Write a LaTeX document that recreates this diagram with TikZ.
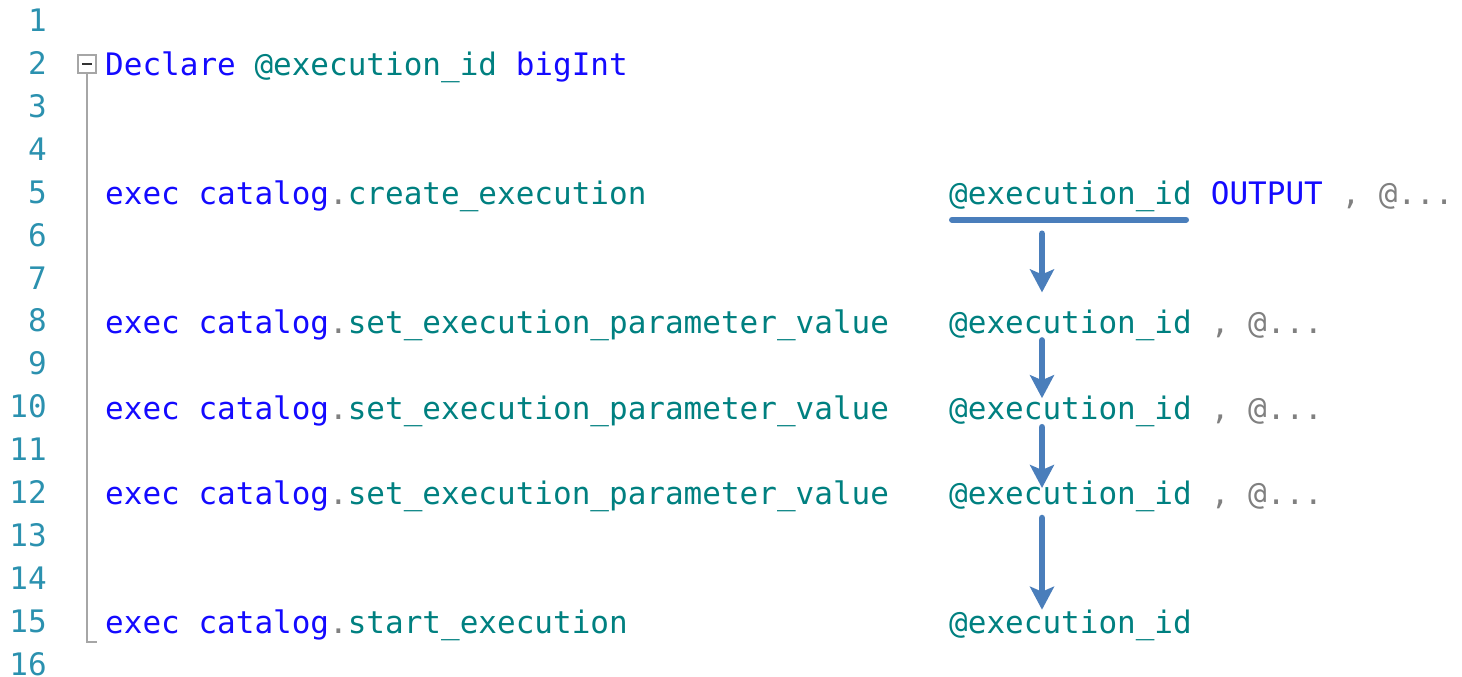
\documentclass[tikz,border=0pt]{standalone}
\usepackage{fontspec}
\setmonofont{DejaVu Sans Mono}
\usetikzlibrary{arrows.meta}
\definecolor{sqlkw}{RGB}{20,10,255}
\definecolor{sqlid}{RGB}{0,128,128}
\definecolor{sqlgray}{RGB}{128,128,128}
\definecolor{lnumcol}{RGB}{43,145,175}
\definecolor{flowcol}{RGB}{74,126,187}
\newcommand{\codefont}{\fontsize{31}{36}\selectfont\ttfamily}
\newcommand{\kw}[1]{\textcolor{sqlkw}{#1}}
\newcommand{\idt}[1]{\textcolor{sqlid}{#1}}
\newcommand{\gr}[1]{\textcolor{sqlgray}{#1}}
\tikzset{
  code/.style={font=\codefont,anchor=base west,inner sep=0pt},
  lnum/.style={font=\codefont,anchor=base east,inner sep=0pt,text=lnumcol},
  flow/.style={draw=flowcol,line width=6.5pt,line cap=round,-{Stealth[width=24pt,length=23pt,inset=5pt]}},
  uline/.style={draw=flowcol,line width=6pt,line cap=round},
  foldline/.style={draw=gray!70,line width=1.5pt}
}
\begin{document}
\begin{tikzpicture}[x=1pt,y=1pt]
\useasboundingbox (0,0) rectangle (1462,677);
% line numbers
\foreach \n in {1,...,16}
  \node[lnum] (ln\n) at (47,{688.2-42.9*\n}) {\n};
% fold marker
\draw (87,613) node[draw=gray!70,line width=1.5pt,minimum size=18pt,inner sep=0pt] (fold) {};
\draw[line width=1.5pt,black!80] ([xshift=-5pt]fold.center) -- ([xshift=5pt]fold.center);
\coordinate (foldend) at (97,35);
\draw[foldline] (fold.south) |- (foldend);
% line 2
\node[code] (l2) at (105,601.0) {\kw{Declare} \idt{@execution\_id} \kw{bigInt}};
% line 5
\node[code] (l5) at (105,472.3) {\kw{exec} \kw{catalog}\gr{.}\idt{create\_execution}};
\node[code] (id5) at (949,472.3) {\idt{@execution\_id}};
\node[code] (out5) at (id5.base east) {\ \kw{OUTPUT} \gr{, @...}};
% line 8
\node[code] (l8) at (105,343.6) {\kw{exec} \kw{catalog}\gr{.}\idt{set\_execution\_parameter\_value}};
\node[code] (id8) at (949,343.6) {\idt{@execution\_id}};
\node[code] (rest8) at (id8.base east) {\ \gr{, @...}};
% line 10
\node[code] (l10) at (105,257.8) {\kw{exec} \kw{catalog}\gr{.}\idt{set\_execution\_parameter\_value}};
\node[code] (id10) at (949,257.8) {\idt{@execution\_id}};
\node[code] (rest10) at (id10.base east) {\ \gr{, @...}};
% line 12
\node[code] (l12) at (105,172.0) {\kw{exec} \kw{catalog}\gr{.}\idt{set\_execution\_parameter\_value}};
\node[code] (id12) at (949,172.0) {\idt{@execution\_id}};
\node[code] (rest12) at (id12.base east) {\ \gr{, @...}};
% line 15
\node[code] (l15) at (105,43.3) {\kw{exec} \kw{catalog}\gr{.}\idt{start\_execution}};
\node[code] (id15) at (949,43.3) {\idt{@execution\_id}};
% flow of the id
\draw[uline] ([xshift=3pt,yshift=-15pt]id5.base west) -- ([xshift=-6pt,yshift=-15pt]id5.base east);
\draw[flow] ([xshift=93pt,yshift=-29pt]id5.base west) -- ([xshift=93pt,yshift=41pt]id8.base west);
\draw[flow] ([xshift=93pt,yshift=-7pt]id8.base west) -- ([xshift=93pt,yshift=21pt]id10.base west);
\draw[flow] ([xshift=93pt,yshift=-8pt]id10.base west) -- ([xshift=93pt,yshift=17pt]id12.base west);
\draw[flow] ([xshift=93pt,yshift=-13pt]id12.base west) -- ([xshift=93pt,yshift=24pt]id15.base west);
\end{tikzpicture}
\end{document}
